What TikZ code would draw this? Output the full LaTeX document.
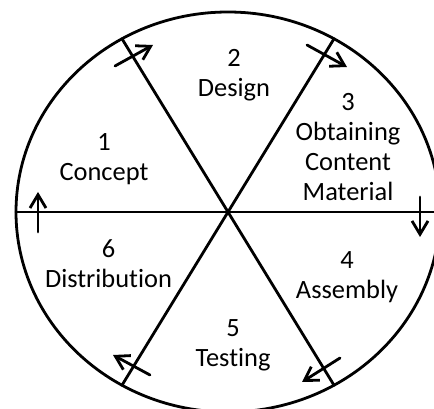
\documentclass[tikz,border=0pt]{standalone}
\usepackage{fontspec}
\setmainfont{Carlito}[Ligatures=NoCommon]
\usetikzlibrary{arrows.meta}
\begin{document}
\begin{tikzpicture}[x=0.75pt,y=0.75pt,>={Straight Barb[length=10pt,width=12pt]}, font=\fontsize{19.8}{22.5}\selectfont, line join=round, line cap=round]
			\useasboundingbox (0,0) rectangle (434,409);
			\clip (0,0) rectangle (434,409);
			\coordinate (O) at (228,197);
			\draw[line width=2.1pt] (O) ellipse [x radius=212, y radius=200];
			\foreach \a in {0,60,...,300}
				\draw[line width=2.1pt] (O)--({228+212*cos(\a)},{197+200*sin(\a)});
			% arrows round the wheel
			\foreach \p/\q in {{(115,343)}/{(153,364)}, {(307,364)}/{(347,342)}, {(420,212)}/{(420,172)},
				{(340,51)}/{(302,27)}, {(150,34)}/{(113,54)}, {(38,177)}/{(38,217)}}
				\draw[->,line width=2.1pt] \p--\q;
			\node[align=center] (concept) at (104,250) {1\\Concept};
			\node[align=center] (design) at (234,333.3) {2\\Design};
			\node[align=center] (obtaining) at (348,261.5) {3\\Obtaining\\Content\\Material};
			\node[align=center] (assembly) at (347,132) {4\\Assembly};
			\node[align=center] (testing) at (233,64) {5\\Testing};
			\node[align=center] (distribution) at (108.5,145.5) {6\\Distribution};
		\end{tikzpicture}
\end{document}
